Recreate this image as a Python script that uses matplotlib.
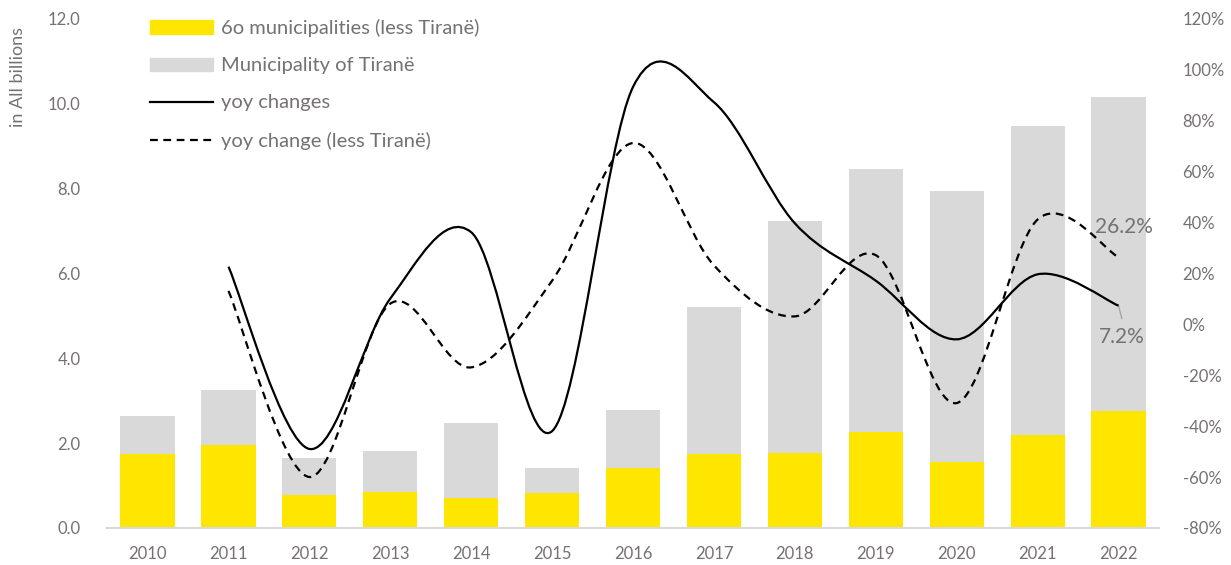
import matplotlib
matplotlib.use("Agg")
import matplotlib.pyplot as plt
from matplotlib.path import Path
from matplotlib.patches import PathPatch
from matplotlib.lines import Line2D
from matplotlib.ticker import FuncFormatter

years = ["2010", "2011", "2012", "2013", "2014", "2015", "2016",
         "2017", "2018", "2019", "2020", "2021", "2022"]
# in All billions
other_munis = [1.74, 1.96, 0.78, 0.84, 0.70, 0.82, 1.41, 1.73, 1.77, 2.25, 1.56, 2.20, 2.76]
tirane = [0.90, 1.28, 0.86, 0.97, 1.78, 0.60, 1.37, 3.46, 5.46, 6.20, 6.37, 7.26, 7.38]
# yoy changes in %, from 2011
yoy_total = [22.5, -49.0, 10.0, 36.0, -42.0, 93.0, 87.0, 39.5, 17.0, -6.0, 19.5, 7.2]
yoy_less_tirane = [13.0, -60.0, 8.0, -17.0, 17.0, 71.0, 23.0, 3.0, 27.0, -31.0, 41.0, 26.2]

yellow = "#FFE600"
grey = "#D9D9D9"
txt = "#767171"

plt.rcParams["font.family"] = ["Lato", "DejaVu Sans"]

fig = plt.figure(figsize=(12.31, 5.65), dpi=100)
ax = fig.add_axes([0.087, 0.0655, 0.8545, 0.9025])
ax2 = ax.twinx()

x = list(range(len(years)))
ax.bar(x, other_munis, width=0.67, color=yellow, zorder=2)
ax.bar(x, tirane, width=0.67, bottom=other_munis, color=grey, zorder=2)

ax.set_xlim(-0.5, len(years) - 0.5)
ax.set_ylim(0, 12)
ax.set_yticks([0, 2, 4, 6, 8, 10, 12])
ax.yaxis.set_major_formatter(FuncFormatter(lambda v, p: f"{v:.1f}"))
ax.set_xticks(x)
ax.set_xticklabels(years)

ax2.set_ylim(-80, 120)
ax2.set_yticks(range(-80, 121, 20))
ax2.yaxis.set_major_formatter(FuncFormatter(lambda v, p: f"{v:.0f}%"))


def smooth(xs, ys):
    # excel-like smoothed line as cubic bezier segments
    n = len(xs)
    verts = [(xs[0], ys[0])]
    codes = [Path.MOVETO]
    for i in range(n - 1):
        a = max(i - 1, 0)
        d = min(i + 2, n - 1)
        c1 = (xs[i] + (xs[i + 1] - xs[a]) / 6, ys[i] + (ys[i + 1] - ys[a]) / 6)
        c2 = (xs[i + 1] - (xs[d] - xs[i]) / 6, ys[i + 1] - (ys[d] - ys[i]) / 6)
        verts += [c1, c2, (xs[i + 1], ys[i + 1])]
        codes += [Path.CURVE4] * 3
    return Path(verts, codes)


xl = x[1:]
ax2.add_patch(PathPatch(smooth(xl, yoy_total), fc="none", ec="black", lw=1.6,
                        capstyle="butt", zorder=3))
ax2.add_patch(PathPatch(smooth(xl, yoy_less_tirane), fc="none", ec="black", lw=1.6,
                        ls=(0, (3.5, 2.5)), capstyle="butt", zorder=3))

# data labels for last points
ax2.text(x[-1] + 0.07, yoy_less_tirane[-1] + 11.8, f"{yoy_less_tirane[-1]:.1f}%",
         ha="center", va="center", fontsize=15, color=txt)
ax2.plot([x[-1], x[-1] + 0.04], [yoy_total[-1], yoy_total[-1] - 5], color="#A6A6A6", lw=1)
ax2.text(x[-1] + 0.04, yoy_total[-1] - 12.3, f"{yoy_total[-1]:.1f}%",
         ha="center", va="center", fontsize=15, color=txt)

for a in (ax, ax2):
    for s in a.spines.values():
        s.set_visible(False)
    a.tick_params(length=0, colors=txt, labelsize=12)
ax.spines["bottom"].set_visible(True)
ax.spines["bottom"].set_color(grey)
ax.spines["bottom"].set_linewidth(1.5)
ax.tick_params(axis="y", pad=19)
ax.tick_params(axis="x", pad=13)
ax2.tick_params(axis="y", pad=17)

fig.text(0.0146, 0.952, "in All billions", rotation=90, ha="center", va="top",
         fontsize=13, color=txt)

handles = [
    plt.Rectangle((0, 0), 1, 1, color=yellow),
    plt.Rectangle((0, 0), 1, 1, color=grey),
    Line2D([], [], color="black", lw=1.6),
    Line2D([], [], color="black", lw=1.6, ls=(0, (3.5, 2.5))),
]
labels = ["6o municipalities (less Tiranë)", "Municipality of Tiranë",
          "yoy changes", "yoy change (less Tiranë)"]
leg = ax2.legend(handles, labels, loc="upper left", bbox_to_anchor=(0.041, 0.998),
                 frameon=False, fontsize=14.5, handlelength=3.1, handleheight=0.65,
                 handletextpad=0.4, labelspacing=1.0, borderpad=0, borderaxespad=0)
for t in leg.get_texts():
    t.set_color(txt)

fig.savefig("out.png", dpi=100)
